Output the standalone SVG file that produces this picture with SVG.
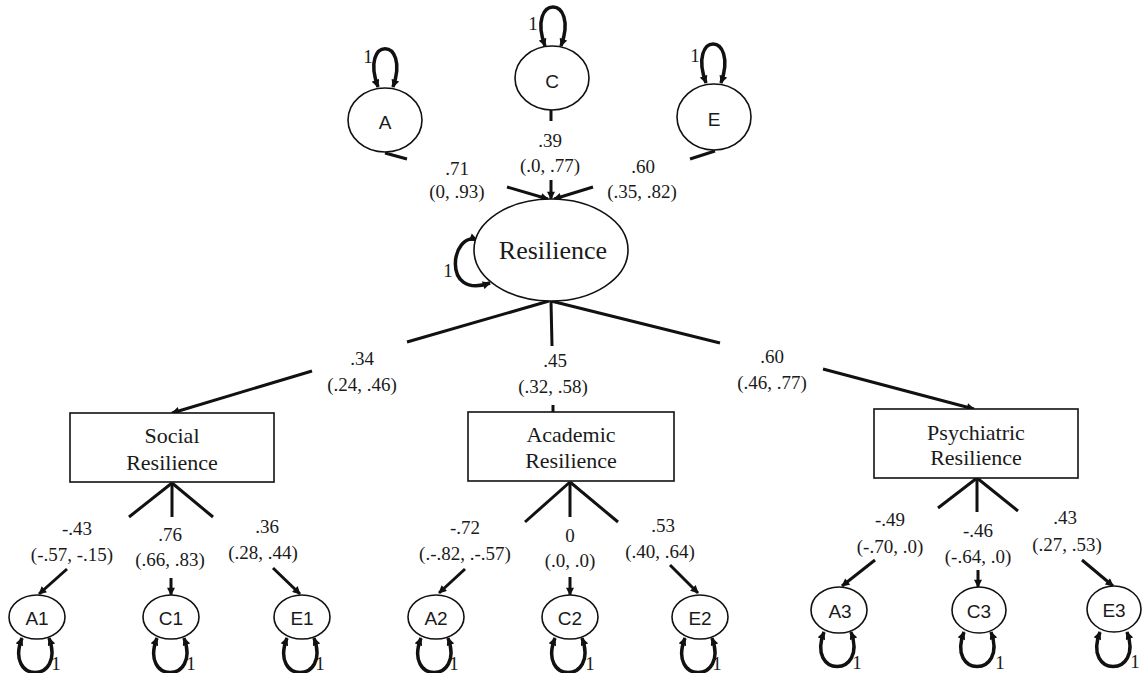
<svg xmlns="http://www.w3.org/2000/svg" width="1142" height="673" viewBox="0 0 1142 673">
<defs>
<marker id="ah" viewBox="0 0 10 10" refX="9" refY="5" markerWidth="9" markerHeight="8" markerUnits="userSpaceOnUse" orient="auto-start-reverse"><path d="M0,0 L10,5 L0,10 z" fill="#111"/></marker>
<style>
.ell{fill:#fff;stroke:#111;stroke-width:1.6}
.box{fill:#fff;stroke:#111;stroke-width:1.6}
.c{stroke:#111;stroke-width:3;fill:none}
.ca{stroke:#111;stroke-width:3;fill:none;marker-end:url(#ah)}
.loop{stroke:#111;stroke-width:3.5;fill:none;marker-start:url(#ah);marker-end:url(#ah)}
.n{font-family:"Liberation Serif","Times New Roman",serif;font-size:19px;fill:#1a1a1a;text-anchor:middle}
.bt{font-family:"Liberation Serif","Times New Roman",serif;font-size:22px;fill:#1a1a1a;text-anchor:middle}
.rt{font-family:"Liberation Serif","Times New Roman",serif;font-size:26px;fill:#1a1a1a;text-anchor:middle}
.s{font-family:"Liberation Sans",Arial,sans-serif;font-size:19px;fill:#1a1a1a;text-anchor:middle}
</style>
</defs>
<rect width="1142" height="673" fill="#fff"/>

<g id="connectors">
<line class="c" x1="385" y1="153" x2="407" y2="159"/>
<line class="ca" x1="507" y1="187" x2="548" y2="199"/>
<line class="c" x1="551" y1="110" x2="551" y2="121"/>
<line class="ca" x1="551" y1="180" x2="551" y2="199"/>
<line class="c" x1="715" y1="151" x2="690" y2="159"/>
<line class="ca" x1="593" y1="187" x2="554" y2="199"/>

<line class="c" x1="549" y1="301" x2="407" y2="342"/>
<line class="ca" x1="312" y1="371" x2="172" y2="413"/>
<line class="c" x1="551" y1="301" x2="552" y2="346"/>
<line class="c" x1="553" y1="405" x2="553" y2="412"/>
<line class="c" x1="551" y1="301" x2="720" y2="343"/>
<line class="ca" x1="823" y1="369" x2="974" y2="409"/>

<line class="c" x1="172" y1="483" x2="129" y2="517"/>
<line class="ca" x1="67" y1="569" x2="39" y2="594"/>
<line class="c" x1="172" y1="483" x2="172" y2="517"/>
<line class="ca" x1="171" y1="578" x2="171" y2="595"/>
<line class="c" x1="172" y1="483" x2="213" y2="517"/>
<line class="ca" x1="273" y1="568" x2="300" y2="594"/>

<line class="c" x1="570" y1="482" x2="525" y2="522"/>
<line class="ca" x1="465" y1="569" x2="439" y2="593"/>
<line class="c" x1="570" y1="482" x2="570" y2="517"/>
<line class="ca" x1="570" y1="577" x2="570" y2="595"/>
<line class="c" x1="570" y1="482" x2="618" y2="522"/>
<line class="ca" x1="670" y1="565" x2="698" y2="593"/>

<line class="c" x1="977" y1="478" x2="938" y2="508"/>
<line class="ca" x1="875" y1="560" x2="842" y2="586"/>
<line class="c" x1="977" y1="478" x2="977" y2="512"/>
<line class="ca" x1="978" y1="570" x2="978" y2="587"/>
<line class="c" x1="977" y1="478" x2="1018" y2="511"/>
<line class="ca" x1="1082" y1="560" x2="1113" y2="586"/>

<path class="loop" d="M378,87 C359,36 411,36 393,87"/>
<path class="loop" d="M545,46 C526,-6 580,-6 561,46"/>
<path class="loop" d="M706,83 C687,31 739,31 721,83"/>
<path class="loop" d="M477,240 C452,230 440,300 490,283"/>

<path class="loop" d="M22,638 C4,684 66,684 49,638"/>
<path class="loop" d="M157,638 C139,684 201,684 184,638"/>
<path class="loop" d="M287,638 C269,684 331,684 314,638"/>
<path class="loop" d="M421,638 C403,684 465,684 448,638"/>
<path class="loop" d="M555,638 C537,684 599,684 582,638"/>
<path class="loop" d="M685,638 C667,684 729,684 712,638"/>
<path class="loop" d="M824,632 C806,678 868,678 851,632"/>
<path class="loop" d="M964,632 C946,678 1008,678 991,632"/>
<path class="loop" d="M1100,632 C1082,678 1144,678 1127,632"/>
</g>

<g id="labels">
<text class="n" x="457" y="175">.71</text>
<text class="n" x="457" y="198">(0, .93)</text>
<text class="n" x="550" y="147">.39</text>
<text class="n" x="550" y="172">(.0, .77)</text>
<text class="n" x="643" y="173">.60</text>
<text class="n" x="642" y="198">(.35, .82)</text>
<text class="n" x="368" y="63">1</text>
<text class="n" x="533" y="30">1</text>
<text class="n" x="695" y="62">1</text>
<text class="n" x="448" y="277">1</text>

<text class="n" x="362" y="365">.34</text>
<text class="n" x="362" y="391">(.24, .46)</text>
<text class="n" x="555" y="367">.45</text>
<text class="n" x="553" y="393">(.32, .58)</text>
<text class="n" x="772" y="363">.60</text>
<text class="n" x="772" y="389">(.46, .77)</text>

<text class="n" x="77" y="535">-.43</text>
<text class="n" x="72" y="561">(-.57, -.15)</text>
<text class="n" x="170" y="541">.76</text>
<text class="n" x="170" y="566">(.66, .83)</text>
<text class="n" x="267" y="533">.36</text>
<text class="n" x="263" y="559">(.28, .44)</text>

<text class="n" x="465" y="534">-.72</text>
<text class="n" x="465" y="560">(.-.82, .-.57)</text>
<text class="n" x="570" y="542">0</text>
<text class="n" x="570" y="567">(.0, .0)</text>
<text class="n" x="663" y="532">.53</text>
<text class="n" x="660" y="558">(.40, .64)</text>

<text class="n" x="890" y="526">-.49</text>
<text class="n" x="890" y="553">(-.70, .0)</text>
<text class="n" x="978" y="537">-.46</text>
<text class="n" x="978" y="563">(-.64, .0)</text>
<text class="n" x="1065" y="524">.43</text>
<text class="n" x="1067" y="551">(.27, .53)</text>

<text class="n" x="56" y="670">1</text>
<text class="n" x="191" y="670">1</text>
<text class="n" x="320" y="670">1</text>
<text class="n" x="454" y="670">1</text>
<text class="n" x="590" y="670">1</text>
<text class="n" x="717" y="670">1</text>
<text class="n" x="857" y="669">1</text>
<text class="n" x="1000" y="669">1</text>
<text class="n" x="1135" y="668">1</text>
</g>

<g id="node-A"><ellipse class="ell" cx="385" cy="120" rx="37" ry="32"/><text class="s" x="385" y="129">A</text></g>
<g id="node-C"><ellipse class="ell" cx="552" cy="78" rx="37" ry="32"/><text class="s" x="552" y="88">C</text></g>
<g id="node-E"><ellipse class="ell" cx="714" cy="117" rx="37" ry="33"/><text class="s" x="714" y="126">E</text></g>
<g id="node-Resilience"><ellipse class="ell" cx="551" cy="250" rx="77" ry="51"/><text class="rt" x="553" y="259">Resilience</text></g>

<g id="node-Social"><rect class="box" x="70" y="413" width="204" height="69"/><text class="bt" x="172" y="443">Social</text><text class="bt" x="172" y="470">Resilience</text></g>
<g id="node-Academic"><rect class="box" x="468" y="412" width="206" height="69"/><text class="bt" x="571" y="442">Academic</text><text class="bt" x="571" y="468">Resilience</text></g>
<g id="node-Psychiatric"><rect class="box" x="874" y="409" width="204" height="69"/><text class="bt" x="976" y="440">Psychiatric</text><text class="bt" x="976" y="465">Resilience</text></g>

<g id="node-A1"><ellipse class="ell" cx="37" cy="617" rx="28" ry="22"/><text class="s" x="37" y="625">A1</text></g>
<g id="node-C1"><ellipse class="ell" cx="171" cy="617" rx="28" ry="22"/><text class="s" x="171" y="625">C1</text></g>
<g id="node-E1"><ellipse class="ell" cx="302" cy="617" rx="28" ry="22"/><text class="s" x="302" y="625">E1</text></g>
<g id="node-A2"><ellipse class="ell" cx="436" cy="617" rx="28" ry="22"/><text class="s" x="436" y="625">A2</text></g>
<g id="node-C2"><ellipse class="ell" cx="570" cy="617" rx="28" ry="22"/><text class="s" x="570" y="625">C2</text></g>
<g id="node-E2"><ellipse class="ell" cx="700" cy="617" rx="28" ry="22"/><text class="s" x="700" y="625">E2</text></g>
<g id="node-A3"><ellipse class="ell" cx="839" cy="610" rx="28" ry="23"/><text class="s" x="840" y="618">A3</text></g>
<g id="node-C3"><ellipse class="ell" cx="979" cy="610" rx="27" ry="23"/><text class="s" x="979" y="618">C3</text></g>
<g id="node-E3"><ellipse class="ell" cx="1114" cy="609" rx="27" ry="23"/><text class="s" x="1114" y="617">E3</text></g>
</svg>
